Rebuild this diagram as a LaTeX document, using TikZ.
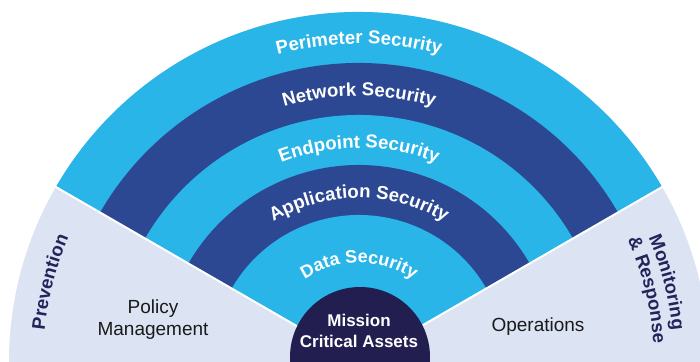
\documentclass[tikz,border=0pt]{standalone}
\usepackage{fontspec}
\setmainfont{Liberation Sans}
\usetikzlibrary{decorations.text}
\definecolor{lblue}{HTML}{29B5E8}
\definecolor{dblue}{HTML}{2C4893}
\definecolor{navy}{HTML}{221F50}
\definecolor{pale}{HTML}{DCE3F3}
\definecolor{labelnavy}{HTML}{22245A}
\definecolor{ink}{HTML}{1A1A1A}
\begin{document}
\begin{tikzpicture}[x=1pt,y=1pt,
  arctext/.style={decorate, decoration={text along path, text align=center,
      text color=white, text={|\bfseries\fontsize{18.6}{20}\selectfont|#1}}},
  smallarctext/.style={decorate, decoration={text along path, text align=center,
      text color=white, text={|\bfseries\fontsize{18}{20}\selectfont|#1}}},
  sidetext/.style={decorate, decoration={text along path, text align=center,
      text color=labelnavy, text={|\bfseries\fontsize{18.6}{20}\selectfont|#1}}},
  sep/.style={white, line width=2pt},
  plainlabel/.style={text=ink, align=center, font=\fontsize{19}{22}\selectfont}
]
\useasboundingbox (0,0) rectangle (700,361);
\clip (0,0) rectangle (700,361);
\begin{scope}[shift={(359,-1)}]
  \fill[pale] (0,0) circle (350);
  \fill[lblue] (0,0) -- (30:350) arc[start angle=30,end angle=150,radius=350] -- cycle;
  \fill[dblue] (0,0) -- (30:299) arc[start angle=30,end angle=150,radius=299] -- cycle;
  \fill[lblue] (0,0) -- (30:247) arc[start angle=30,end angle=150,radius=247] -- cycle;
  \fill[dblue] (0,0) -- (30:197) arc[start angle=30,end angle=150,radius=197] -- cycle;
  \fill[lblue] (0,0) -- (30:147) arc[start angle=30,end angle=150,radius=147] -- cycle;
  \draw[sep] (0,0) -- (150:352);
  \draw[sep] (0,0) -- (30:352);
  \path[arctext={Perimeter Security}] (150:318) arc[start angle=150,end angle=30,radius=318];
  \path[arctext={Network Security}] (150:266) arc[start angle=150,end angle=30,radius=266];
  \path[arctext={Endpoint Security}] (150:214) arc[start angle=150,end angle=30,radius=214];
  \path[arctext={Application Security}] (150:164) arc[start angle=150,end angle=30,radius=164];
  \path[smallarctext={Data Security}] (150:99) arc[start angle=150,end angle=30,radius=99];
  \path[sidetext={Prevention}] (180.5:316) arc[start angle=180.5,end angle=150.5,radius=316];
  \path[sidetext={Monitoring}] (29.5:315) arc[start angle=29.5,end angle=-0.5,radius=315];
  \path[sidetext={{\&} Response}] (29:295) arc[start angle=29,end angle=-1,radius=295];
\end{scope}
\node[circle, fill=navy, minimum size=140pt, inner sep=0pt] (core) at (360,4) {};
\node[text=white, align=center, font=\bfseries\fontsize{17}{21}\selectfont] (mission) at (359,30) {Mission\\Critical Assets};
\node[plainlabel] (policy) at (153,41) {Policy\\Management};
\node[plainlabel] (ops) at (538,34) {Operations};
\end{tikzpicture}
\end{document}
